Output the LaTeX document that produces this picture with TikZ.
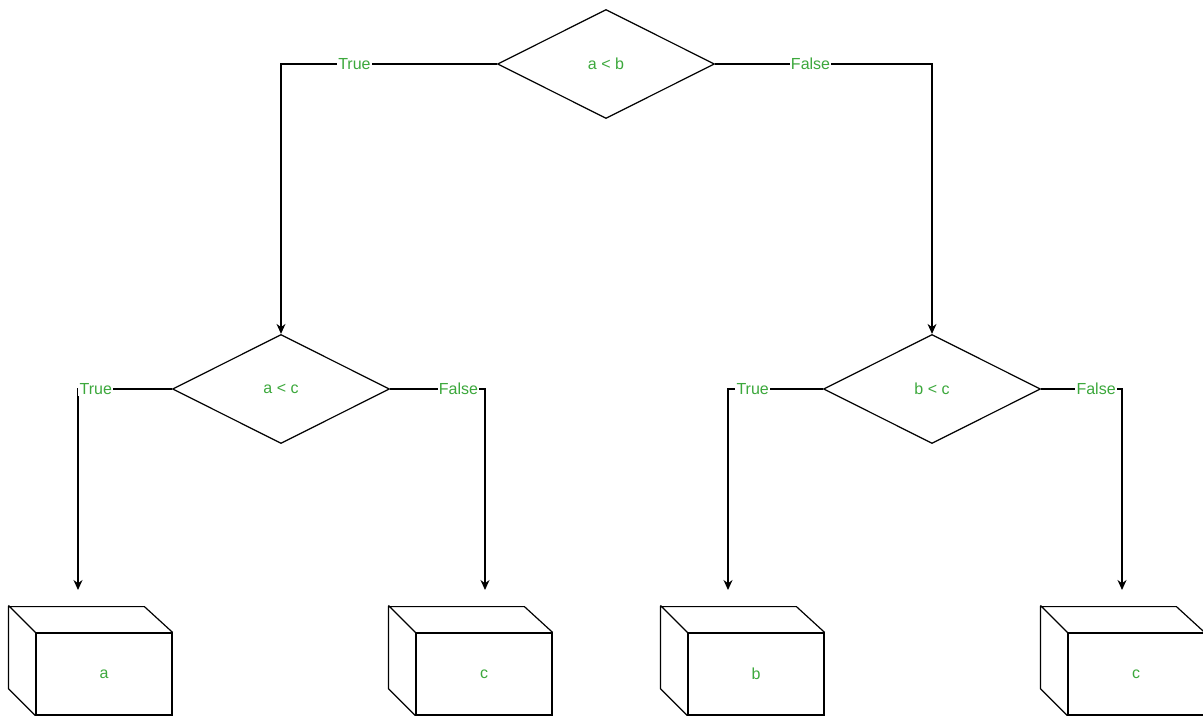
\documentclass[tikz,border=0pt]{standalone}
\usepackage{fontspec}
\setmainfont{Liberation Sans}
\usetikzlibrary{shapes.geometric,arrows.meta,positioning}
\definecolor{lblgreen}{RGB}{60,168,60}
\begin{document}
\begin{tikzpicture}[x=0.5pt,y=-0.5pt,line width=0.6pt,
  txt/.style={text=lblgreen,font=\fontsize{8}{9.6}\selectfont},
  test/.style={diamond,draw,txt,minimum width=108.5pt,minimum height=54.5pt,inner sep=0pt},
  cube/.style={draw,txt,minimum width=68pt,minimum height=41pt,inner sep=0pt},
  branch/.style={txt,fill=white,inner sep=0.6pt},
  arr/.style={-{Stealth[length=5pt,width=4.5pt]}}]
\useasboundingbox (0,0) rectangle (1203,716);
%
\node[test](ab) at (606,64){a < b};
\node[test](ac) at (281,389){a < c};
\node[test](bc) at (932,389){b < c};
%
\node[cube](ra) at (104,674){a};
\node[cube](rc) at (484,674){c};
\node[cube](rb) at (756,674){b};
\node[cube](rd) at (1136,674){c};
\foreach \b in {ra,rc,rb,rd}
  \draw(\b.south west)--++(-27,-27)--++(0,-82)--++(136,0)--(\b.north east)
       (\b.north west)--++(-27,-27);
%
\coordinate(ea) at (78,590);
\coordinate(ec) at (485,590);
\coordinate(eb) at (728,590);
\coordinate(ed) at (1122,590);
%
\draw[arr](ab.west) -| (ac.north) node[branch,pos=0.33]{True};
\draw[arr](ab.east) -| (bc.north) node[branch,pos=0.22]{False};
\draw[arr](ac.west) -| (ea) node[branch,pos=0.405]{True};
\draw[arr](ac.east) -| (ec) node[branch,pos=0.36]{False};
\draw[arr](bc.west) -| (eb) node[branch,pos=0.37]{True};
\draw[arr](bc.east) -| (ed) node[branch,pos=0.34]{False};
\end{tikzpicture}
\end{document}
